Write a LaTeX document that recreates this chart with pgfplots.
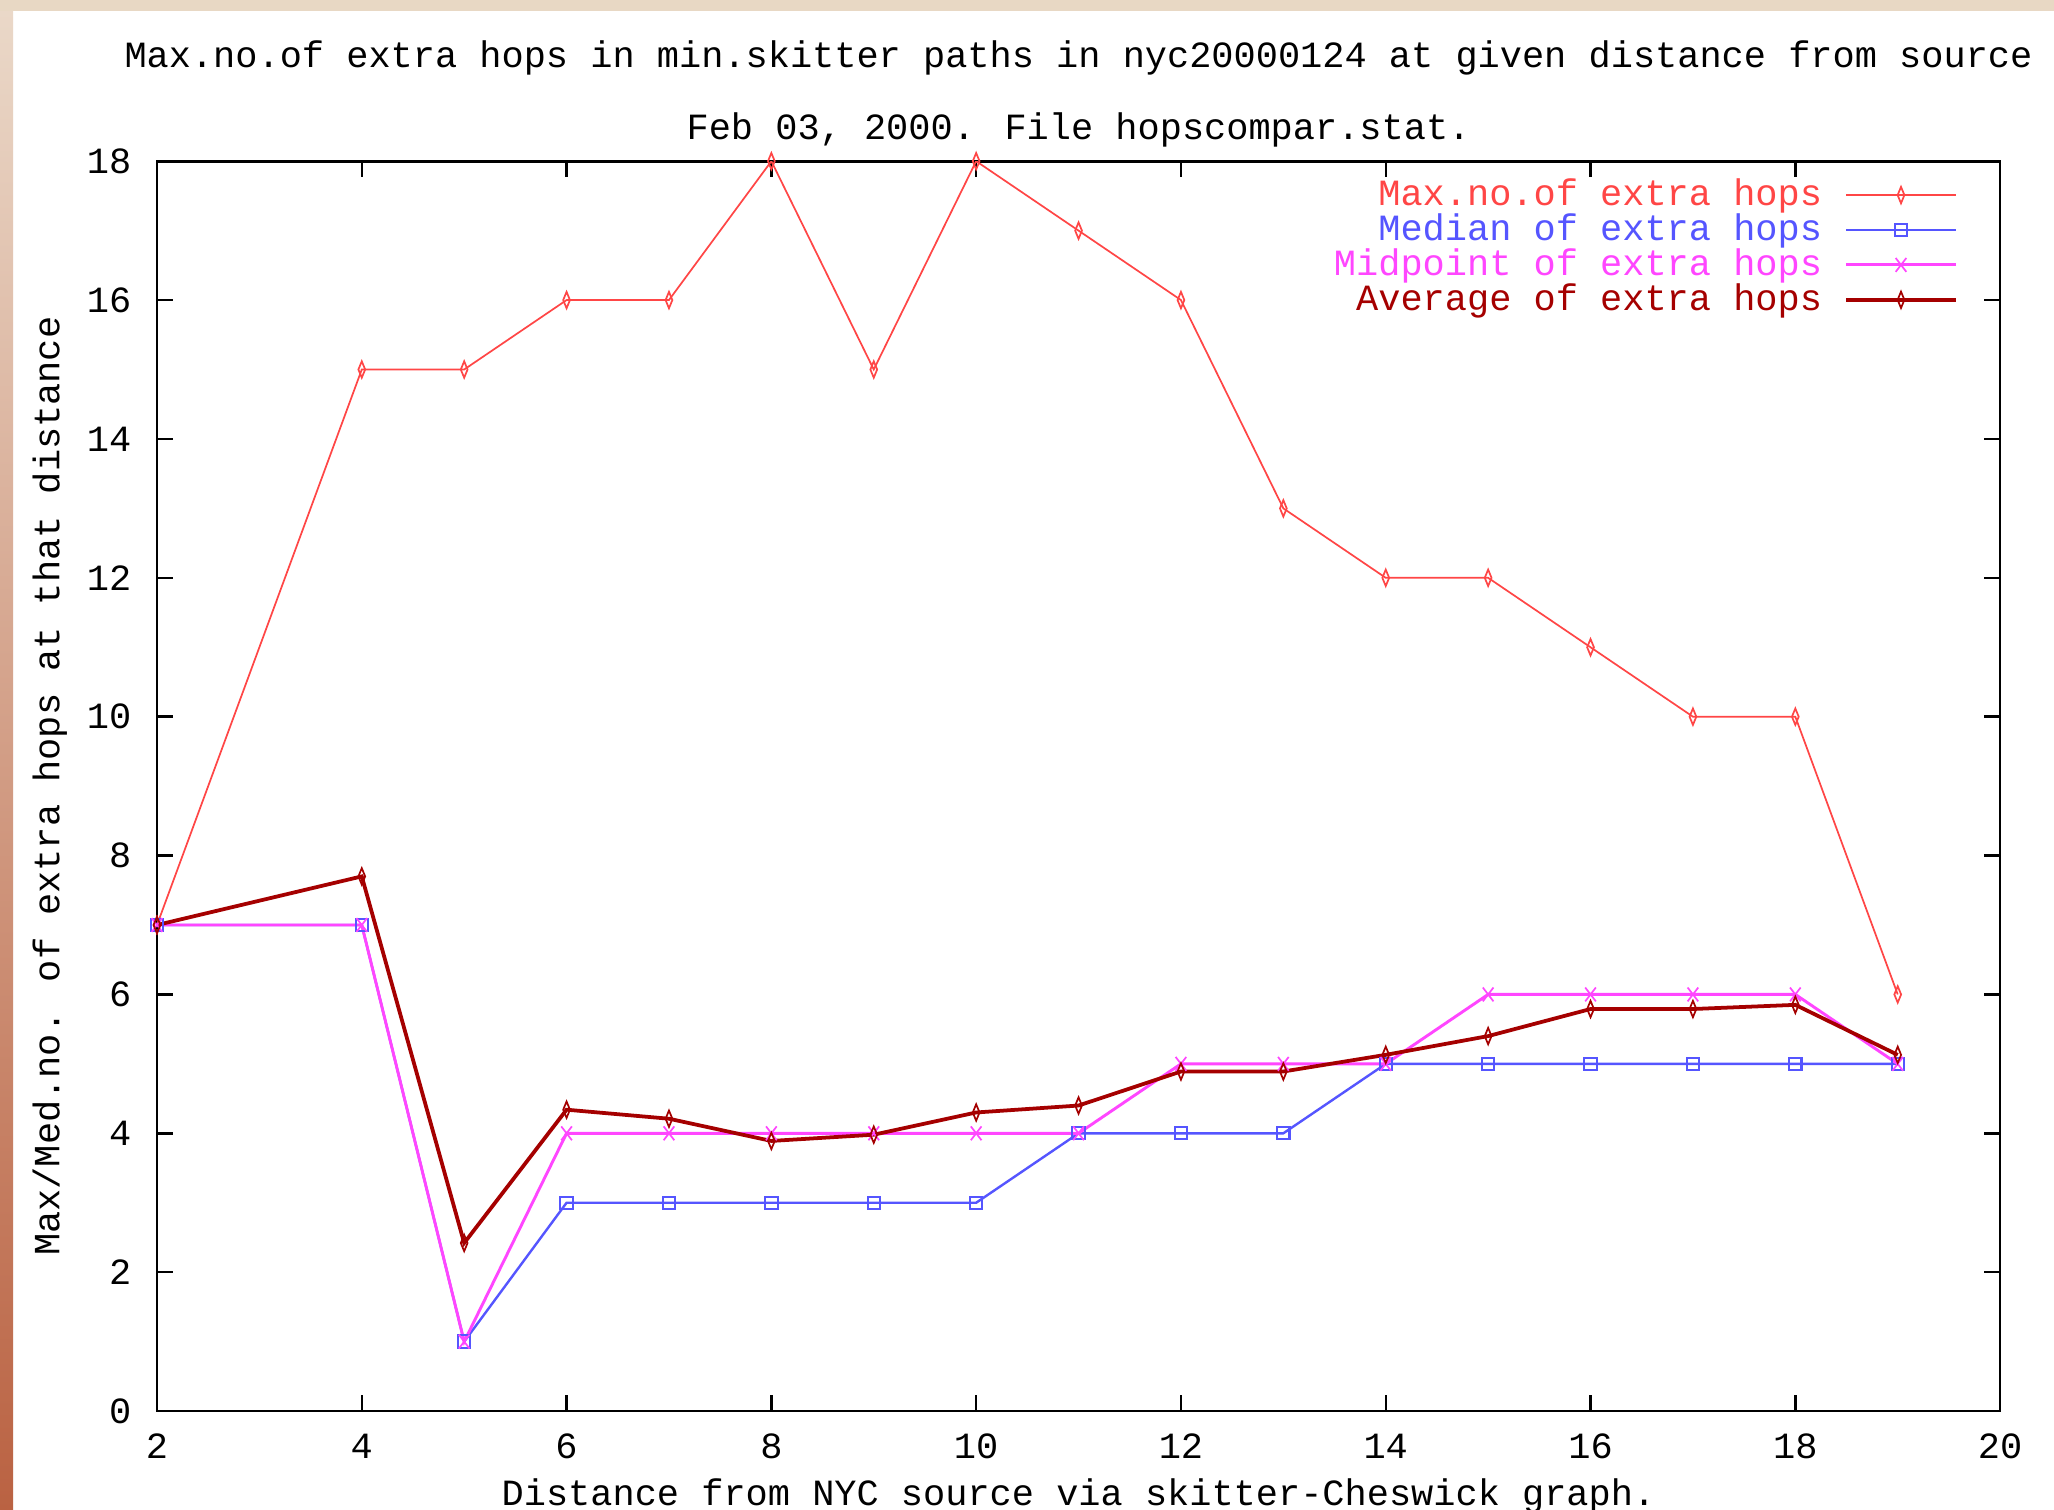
\documentclass[border=0pt]{standalone}
\usepackage{fontspec}
\setmainfont{Liberation Mono}
\usepackage{pgfplots}
\pgfplotsset{compat=1.18}
\definecolor{maxred}{RGB}{255,70,70}
\definecolor{medblue}{RGB}{85,85,255}
\definecolor{midmag}{RGB}{255,70,255}
\definecolor{avgred}{RGB}{165,0,0}
\definecolor{stripTop}{RGB}{234,216,200}
\definecolor{stripBot}{RGB}{186,98,66}
\definecolor{barbeige}{RGB}{232,216,196}
\newcommand\gfont{\fontsize{10.8pt}{12pt}\selectfont}

\begin{document}
\begin{tikzpicture}
\path[use as bounding box] (0,0) rectangle (600pt,441.09pt);
\fill[white] (0,0) rectangle (600pt,441.09pt);
\shade[top color=stripTop, bottom color=stripBot] (0,0) rectangle (3.8pt,438pt);
\fill[barbeige] (0,438pt) rectangle (600pt,441.09pt);
\begin{axis}[
  at={(45.86pt,28.9pt)}, anchor=south west,
  scale only axis, width=538.4pt, height=365.1pt,
  xmin=2, xmax=20, ymin=0, ymax=18,
  xtick={2,4,...,20}, ytick={0,2,...,18},
  tick align=inside, major tick length=4.6pt,
  axis line style={line width=0.8pt},
  every tick/.style={black, line width=0.7pt},
  /pgf/number format/assume math mode=true,
  tick label style={font=\gfont},
  xticklabel style={anchor=center, yshift=-10.3pt},
  yticklabel style={anchor=east, xshift=-4pt},
  legend style={at={(1,1)}, anchor=north east, xshift=-12.2pt, yshift=-5.8pt,
    draw=none, fill=none, inner sep=0pt, row sep=0pt, column sep=6.5pt,
    nodes={inner sep=0pt, text height=7pt, text depth=3.2pt, font=\gfont}},
  legend cell align=right, legend plot pos=right,
  legend image code/.code={\draw[mark repeat=2,mark phase=2,yshift=1.2pt,#1] plot coordinates {(0pt,0pt) (16pt,0pt) (32pt,0pt)};},
  extra description/.code={
    \node[font=\gfont] at ([yshift=30.2pt]axis description cs:0.5,1) {Max.no.of extra hops in min.skitter paths in nyc20000124 at given distance from source};
    \node[font=\gfont] at ([yshift=9.0pt]axis description cs:0.5,1) {Feb 03, 2000. File hopscompar.stat.};
    \node[font=\gfont, rotate=90] at ([xshift=-31.3pt]axis description cs:0,0.5) {Max/Med.no. of extra hops at that distance};
    \node[font=\gfont] at ([yshift=-24.8pt]axis description cs:0.5,0) {Distance from NYC source via skitter-Cheswick graph.};
  },
]
% Maximum number of extra hops
\addplot[maxred, line width=0.5pt, mark=diamond, mark size=2.4pt, mark options={xscale=0.55, line width=0.5pt}]
  table {
  2 7
  4 15
  5 15
  6 16
  7 16
  8 18
  9 15
  10 18
  11 17
  12 16
  13 13
  14 12
  15 12
  16 11
  17 10
  18 10
  19 6
  };
\addlegendentry{\textcolor{maxred}{Max.no.of extra hops}}
% Median
\addplot[medblue, line width=0.7pt, mark=square, mark size=1.8pt, mark options={line width=0.6pt}]
  table {
  2 7
  4 7
  5 1
  6 3
  7 3
  8 3
  9 3
  10 3
  11 4
  12 4
  13 4
  14 5
  15 5
  16 5
  17 5
  18 5
  19 5
  };
\addlegendentry{\textcolor{medblue}{Median of extra hops}}
% Midpoint
\addplot[midmag, line width=0.85pt, mark=x, mark size=2.2pt, mark options={yscale=1.3, line width=0.5pt}]
  table {
  2 7
  4 7
  5 1
  6 4
  7 4
  8 4
  9 4
  10 4
  11 4
  12 5
  13 5
  14 5
  15 6
  16 6
  17 6
  18 6
  19 5
  };
\addlegendentry{\textcolor{midmag}{Midpoint of extra hops}}
% Average
\addplot[avgred, line width=1.1pt, mark=diamond, mark size=2.4pt, mark options={xscale=0.55, line width=0.5pt}]
  table {
  2 7
  4 7.70
  5 2.42
  6 4.34
  7 4.21
  8 3.89
  9 3.98
  10 4.30
  11 4.40
  12 4.89
  13 4.89
  14 5.13
  15 5.40
  16 5.79
  17 5.79
  18 5.85
  19 5.13
  };
\addlegendentry{\textcolor{avgred}{Average of extra hops}}
\end{axis}
\end{tikzpicture}
\end{document}
